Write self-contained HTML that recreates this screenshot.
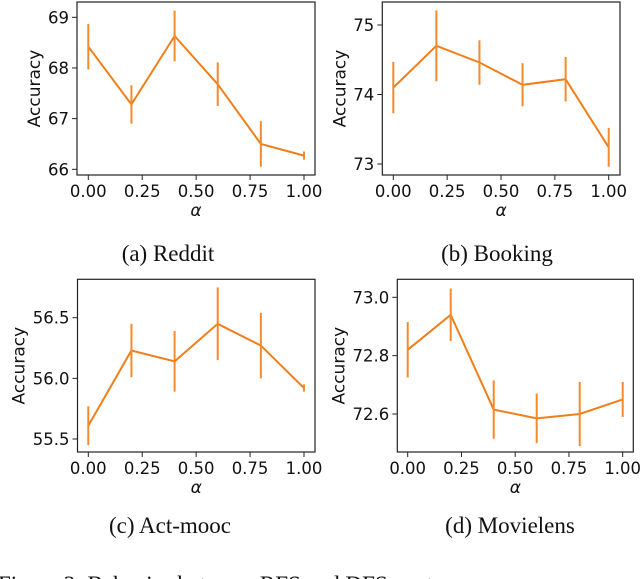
<!DOCTYPE html>
<html><head><meta charset="utf-8"><style>
body{margin:0;background:#fff;width:640px;height:579px;overflow:hidden}
svg{display:block}
</style></head><body>
<svg id="fig" width="640" height="579" xmlns="http://www.w3.org/2000/svg"></svg>
<script>
const alphas=[0,0.2,0.4,0.6,0.8,1.0];
const xTicks=[0,0.25,0.5,0.75,1.0];
const xTickLabels=["0.00","0.25","0.50","0.75","1.00"];
const redditVals=[68.42,67.28,68.63,67.68,66.5,66.27];
const redditErr=[0.45,0.38,0.5,0.43,0.45,0.08];
const redditTicks=[66,67,68,69];
const bookingVals=[74.1,74.7,74.46,74.14,74.22,73.24];
const bookingErr=[0.37,0.51,0.32,0.31,0.32,0.28];
const bookingTicks=[73,74,75];
const moocVals=[55.61,56.23,56.14,56.45,56.27,55.92];
const moocErr=[0.16,0.22,0.25,0.3,0.27,0.03];
const moocTicks=[55.5,56.0,56.5];
const movieVals=[72.82,72.94,72.615,72.585,72.60,72.65];
const movieErr=[0.095,0.09,0.1,0.085,0.11,0.06];
const movieTicks=[72.6,72.8,73.0];

const NS="http://www.w3.org/2000/svg";
const svg=document.getElementById('fig');
function mk(tag,attrs,parent){const e=document.createElementNS(NS,tag);for(const k in attrs)e.setAttribute(k,attrs[k]);(parent||svg).appendChild(e);return e;}
const SANS='DejaVu Sans, Liberation Sans, sans-serif';
const panels=[
 {name:'reddit',vals:redditVals,err:redditErr,ticks:redditTicks,dec:0,box:[77,2,315,175],x0:88.3,x1:304,v0:66,p0:169.3,v1:69,p1:17.3,cap:'(a) Reddit',capX:168,capY:261},
 {name:'booking',vals:bookingVals,err:bookingErr,ticks:bookingTicks,dec:0,box:[382.3,2,620,175],x0:393.3,x1:608.7,v0:73,p0:164,v1:75,p1:25,cap:'(b) Booking',capX:497,capY:261},
 {name:'act-mooc',vals:moocVals,err:moocErr,ticks:moocTicks,dec:1,box:[77.5,279.3,315,452],x0:88.3,x1:304,v0:55.5,p0:439,v1:56.5,p1:317.7,cap:'(c) Act-mooc',capX:170,capY:533},
 {name:'movielens',vals:movieVals,err:movieErr,ticks:movieTicks,dec:1,box:[397.3,279.3,633.3,452],x0:407.7,x1:622.7,v0:72.6,p0:414,v1:73.0,p1:297.3,cap:'(d) Movielens',capX:510,capY:533}
];
panels.forEach(p=>{
 const g=mk('g',{});
 
 
 const xs=a=>p.x0+(p.x1-p.x0)*a;
 const ys=v=>p.p0+(p.p1-p.p0)*(v-p.v0)/(p.v1-p.v0);
 const [bx0,by0,bx1,by1]=p.box;
 const fr=mk('rect',{x:bx0,y:by0,width:bx1-bx0,height:by1-by0,fill:'none',stroke:'#222','stroke-width':1.2},g);
 
 
 xTicks.forEach((t,i)=>{
  const x=xs(t);
  mk('line',{x1:x,y1:by1,x2:x,y2:by1+5,stroke:'#222','stroke-width':1},g);
  const tx=mk('text',{x:x,y:by1+22,'text-anchor':'middle','font-size':16.5,'font-family':SANS,fill:'#111'},g);
  tx.textContent=xTickLabels[i];
  
  
 });
 p.ticks.forEach(t=>{
  const y=ys(t);
  mk('line',{x1:bx0-5,y1:y,x2:bx0,y2:y,stroke:'#222','stroke-width':1},g);
  const tx=mk('text',{x:bx0-8,y:y+6,'text-anchor':'end','font-size':16.5,'font-family':SANS,fill:'#111'},g);
  tx.textContent=t.toFixed(p.dec);
  
  
 });
 const yl=mk('text',{transform:`translate(${bx0-(p.dec?53:37)},${(by0+by1)/2}) rotate(-90)`,'text-anchor':'middle','font-size':17,'font-family':SANS,fill:'#111'},g);
 yl.textContent='Accuracy';
 
 
 const xl=mk('text',{x:(bx0+bx1)/2,y:by1+41,'text-anchor':'middle','font-size':17,'font-style':'italic','font-family':SANS,fill:'#111'},g);
 xl.textContent='α';
 
 
 const pts=alphas.map((a,i)=>xs(a).toFixed(1)+','+ys(p.vals[i]).toFixed(1)).join(' ');
 const pl=mk('polyline',{points:pts,fill:'none',stroke:'#f07f1a','stroke-width':2},g);
 
 
 alphas.forEach((a,i)=>{
  const eb=mk('line',{x1:xs(a),x2:xs(a),y1:ys(p.vals[i]-p.err[i]),y2:ys(p.vals[i]+p.err[i]),stroke:'#f58a2a','stroke-width':2},g);
  
  
 });
 const c=mk('text',{x:p.capX,y:p.capY,'text-anchor':'middle','font-size':23,'font-family':'Liberation Serif, serif',fill:'#111'},g);
 c.textContent=p.cap;
 
 
});
const fc=mk('text',{x:-2,y:592,'font-size':23,'font-family':'Liberation Serif, serif',fill:'#111'});
fc.textContent='Figure 3: Behavior between RFS and DFS w.r.t. α';


</script>
</body></html>
